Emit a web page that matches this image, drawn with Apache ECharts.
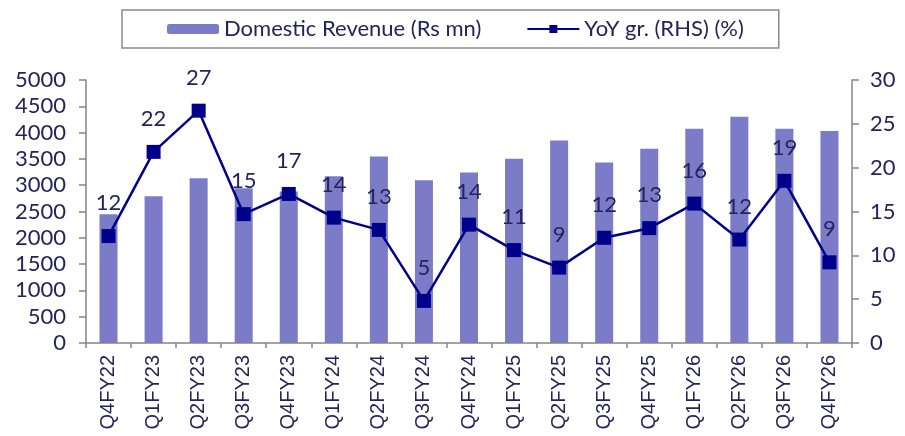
<!DOCTYPE html>
<html><head><meta charset="utf-8">
<script src="https://cdn.jsdelivr.net/npm/echarts@6/dist/echarts.min.js"></script>
<style>html,body{margin:0;padding:0;background:#fff}#c{width:905px;height:436px}</style>
</head><body><div id="c"></div>
<script>
const categories = ["Q4FY22","Q1FY23","Q2FY23","Q3FY23","Q4FY23","Q1FY24","Q2FY24","Q3FY24","Q4FY24","Q1FY25","Q2FY25","Q3FY25","Q4FY25","Q1FY26","Q2FY26","Q3FY26","Q4FY26"];
const revenue = [2450,2790,3130,2940,2880,3170,3545,3095,3240,3505,3850,3430,3695,4075,4300,4075,4030];
const yoy = [12.2,21.8,26.5,14.7,17.0,14.3,12.9,4.8,13.5,10.6,8.6,12.0,13.1,15.9,11.8,18.5,9.2];
const leftTicks = {min:0, max:5000, interval:500};
const rightTicks = {min:0, max:30, interval:5};

const txt = '#24245c';
const axisCol = '#858585';
const chart = echarts.init(document.getElementById('c'));
chart.setOption({
  animation:false,
  textStyle:{fontFamily:'Lato'},
  legend:{
    left:122, top:10, padding:[8,35,8,45], itemGap:45,
    borderColor:'#8a8a8a', borderWidth:1.5,
    itemWidth:52, itemHeight:10,
    textStyle:{fontSize:22, color:txt, fontFamily:'Lato'},
    data:[{name:'Domestic Revenue (Rs mn)'},{name:'YoY gr. (RHS) (%)'}]
  },
  grid:{left:86, right:53, top:80, bottom:93},
  xAxis:{
    type:'category', data:categories,
    axisLine:{lineStyle:{color:axisCol, width:1.5}},
    axisTick:{show:true, length:5, lineStyle:{color:axisCol, width:1.5}},
    axisLabel:{rotate:90, fontSize:20, color:txt, margin:12, fontFamily:'Liberation Sans'}
  },
  yAxis:[
    {type:'value', min:leftTicks.min, max:leftTicks.max, interval:leftTicks.interval,
     splitLine:{show:false},
     axisLine:{show:true, lineStyle:{color:axisCol, width:1.5}},
     axisTick:{show:true, length:7, lineStyle:{color:axisCol, width:1.5}},
     axisLabel:{fontSize:22, color:txt, margin:20, formatter:v=>String(v)}},
    {type:'value', min:rightTicks.min, max:rightTicks.max, interval:rightTicks.interval,
     splitLine:{show:false},
     axisLine:{show:true, lineStyle:{color:axisCol, width:1.5}},
     axisTick:{show:true, length:7, lineStyle:{color:axisCol, width:1.5}},
     axisLabel:{fontSize:22, color:txt, margin:18}}
  ],
  series:[
    {name:'Domestic Revenue (Rs mn)', type:'bar', data:revenue, barWidth:18,
     itemStyle:{color:'#7b7bc8'}},
    {name:'YoY gr. (RHS) (%)', type:'line', yAxisIndex:1, data:yoy,
     symbol:'rect', symbolSize:14,
     lineStyle:{color:'#00008b', width:2.5},
     itemStyle:{color:'#00008b'},
     label:{show:true, position:'top', distance:15, fontSize:22, color:txt,
       formatter:p=>Math.round(p.value)}}
  ]
});
</script></body></html>
